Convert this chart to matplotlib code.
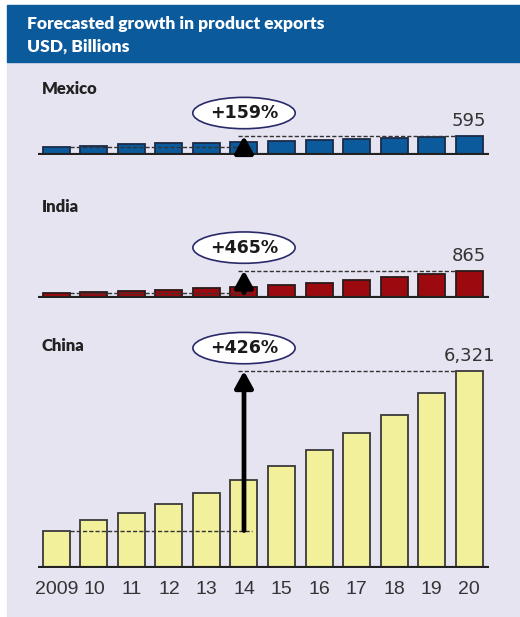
import matplotlib.pyplot as plt
from matplotlib.patches import Rectangle

years = ["2009", "10", "11", "12", "13", "14", "15", "16", "17", "18", "19", "20"]
mexico = [230, 285, 325, 370, 370, 410, 445, 450, 495, 520, 560, 595]
india = [153, 170, 210, 255, 295, 340, 395, 480, 560, 665, 755, 865]
china = [1202, 1530, 1765, 2063, 2397, 2814, 3283, 3777, 4341, 4909, 5606, 6321]
growth = ["+159%", "+465%", "+426%"]
last_labels = ["595", "865", "6,321"]

W, H = 520, 617
fig = plt.figure(figsize=(W / 100, H / 100), dpi=100)

# background + header band (pixel coords -> figure fraction)
def px_rect(x0, y0, x1, y1, color):
    fig.patches.append(Rectangle((x0 / W, 1 - y1 / H), (x1 - x0) / W, (y1 - y0) / H,
                                 transform=fig.transFigure, color=color, zorder=-5))

px_rect(7, 62, W, H, "#e6e4f1")
px_rect(7, 5, W, 62, "#0b5a9c")

fig.text(27 / W, 1 - 29.5 / H, "Forecasted growth in product exports", color="white",
         fontsize=12.5, fontweight="heavy", family="Lato", va="baseline")
fig.text(27 / W, 1 - 51.5 / H, "USD, Billions", color="white",
         fontsize=12.5, fontweight="heavy", family="Lato", va="baseline")

scale = 197 / 6321  # pixels per billion, shared by all three panels
x = list(range(len(years)))
bw = 0.72

panels = [
    ("Mexico", mexico, "#0b5a9c", "#1c2a48", 100, 154.5, 94),
    ("India", india, "#9c0a10", "#2a1a1a", 215, 297.5, 211.5),
    ("China", china, "#f3f09c", "#3a3a3a", 345, 568, 351),
]

for i, (name, vals, fc, ec, top, base, lab_y) in enumerate(panels):
    ax = fig.add_axes([38 / W, 1 - base / H, (489 - 38) / W, (base - top) / H])
    ax.set_xlim(-0.493, 11.533)
    ax.set_ylim(0, (base - top) / scale)
    ax.patch.set_alpha(0)
    for s in ax.spines.values():
        s.set_visible(False)
    ax.bar(x, vals, width=bw, color=fc, edgecolor=ec, linewidth=1.3, zorder=2)
    ax.axhline(0, color="#222222", lw=3, zorder=3, solid_capstyle="butt")

    v0, v1 = vals[0], vals[-1]
    ax.plot([x[0] + bw / 2, x[5] + 0.21], [v0, v0], ls=(0, (3, 1.5)), color="#333333", lw=1, zorder=4)
    ax.plot([x[5] - 0.17, x[-1] - bw / 2], [v1, v1], ls=(0, (3, 1.5)), color="#333333", lw=1, zorder=4)
    ax.annotate("", xy=(x[5], v1), xytext=(x[5], v0),
                arrowprops=dict(arrowstyle="-|>,head_width=0.55,head_length=1.0",
                                mutation_scale=10, lw=3.4, color="black",
                                shrinkA=0, shrinkB=0), zorder=5)
    ax.annotate(growth[i], xy=(x[5], v1), xytext=(0, 16.5), textcoords="offset points",
                ha="center", va="center", fontsize=12.5, fontweight="bold", color="#1a1a1a",
                bbox=dict(boxstyle="ellipse,pad=0.12", fc="white", ec="#2a2a6a", lw=1.2))
    ax.annotate(last_labels[i], xy=(x[-1], v1), xytext=(0, 4), textcoords="offset points",
                ha="center", va="bottom", fontsize=13, color="#333333")

    fig.text(42 / W, 1 - lab_y / H, name, fontsize=12, fontweight="heavy", family="Lato",
             color="#222222", va="baseline")

    if name == "China":
        ax.set_xticks(x)
        ax.set_xticklabels(years, fontsize=14, color="#333333", family="Liberation Sans")
        ax.tick_params(axis="x", length=0, pad=9)
        ax.set_yticks([])
    else:
        ax.set_xticks([])
        ax.set_yticks([])

fig.savefig("out.png", dpi=100)
